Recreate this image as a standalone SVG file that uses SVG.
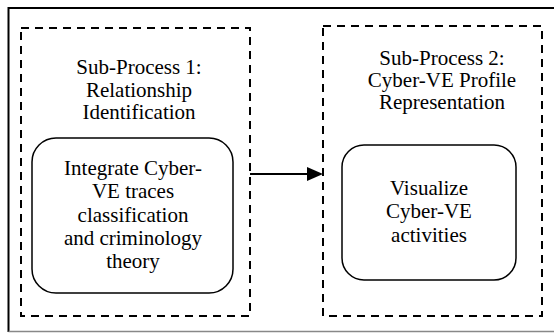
<svg xmlns="http://www.w3.org/2000/svg" width="554" height="333" viewBox="0 0 554 333">
<style>
.t{font-family:"Liberation Serif","Tinos","Times New Roman","DejaVu Serif",serif;font-size:21px;fill:#000;text-anchor:middle}
.dash{fill:none;stroke:#000;stroke-width:2;stroke-dasharray:8,6}
.rb{fill:#fff;stroke:#000;stroke-width:1.5}
</style>
<rect width="554" height="333" fill="#fff"/>
<g id="frame">
<path d="M8.5,332 L8.5,8 L554,8" fill="none" stroke="#000" stroke-width="2"/>
<path d="M8.5,331.5 L554,331.5" fill="none" stroke="#888" stroke-width="1.5"/>
</g>
<g id="sub1">
<rect class="dash" x="21" y="28" width="229" height="288"/>
<text class="t" x="139" y="74">Sub-Process 1:</text>
<text class="t" x="139" y="97">Relationship</text>
<text class="t" x="139" y="119">Identification</text>
</g>
<g id="node1">
<rect class="rb" x="32" y="138" width="201" height="155" rx="24" ry="24"/>
<text class="t" x="133" y="175">Integrate Cyber-</text>
<text class="t" x="133" y="198">VE traces</text>
<text class="t" x="133" y="222">classification</text>
<text class="t" x="133" y="245">and criminology</text>
<text class="t" x="133" y="268">theory</text>
</g>
<g id="sub2">
<rect class="dash" x="323" y="26" width="219" height="290"/>
<text class="t" x="442" y="65">Sub-Process 2:</text>
<text class="t" x="442" y="87">Cyber-VE Profile</text>
<text class="t" x="442" y="109">Representation</text>
</g>
<g id="node2">
<rect class="rb" x="342" y="145" width="174" height="135" rx="22" ry="22"/>
<text class="t" x="429" y="195">Visualize</text>
<text class="t" x="429" y="218">Cyber-VE</text>
<text class="t" x="429" y="242">activities</text>
</g>
<g id="connectors">
<line x1="250" y1="174" x2="307" y2="174" stroke="#000" stroke-width="2"/>
<path d="M307,167 L323,174 L307,181 z" fill="#000"/>
</g>
</svg>
